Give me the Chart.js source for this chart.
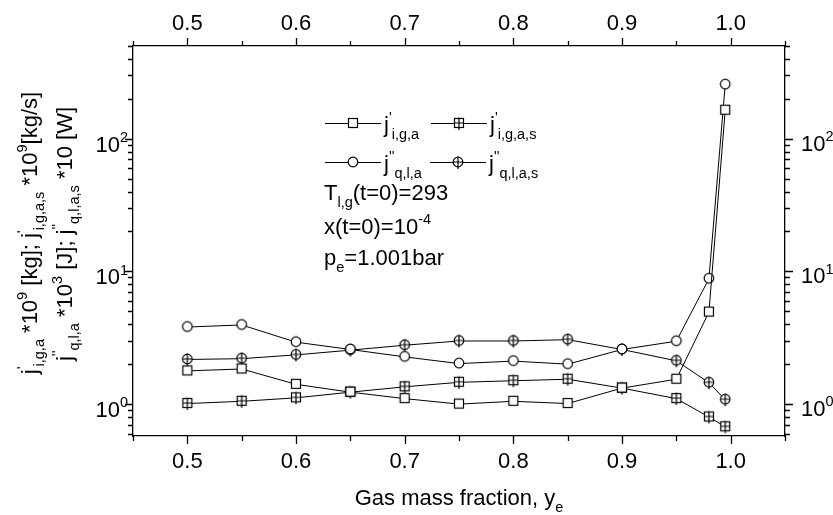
<!DOCTYPE html>
<html>
<head>
<meta charset="utf-8">
<script src="https://cdn.jsdelivr.net/npm/chart.js@4"></script>
<style>
  html, body { margin: 0; padding: 0; background: #fff; }
  canvas { display: block; }
</style>
</head>
<body>
<canvas id="chart" width="833" height="515"></canvas>
<script>
"use strict";

// gas mass fraction y_e
const massFraction = [0.5, 0.55, 0.6, 0.65, 0.7, 0.75, 0.8, 0.85, 0.9, 0.95, 0.98, 0.995];
// j'_{i,g,a} *1e9 [kg]
const jIga = [1.78, 1.84, 1.41, 1.23, 1.10, 1.00, 1.05, 1.01, 1.32, 1.54, 4.94, 164];
// j'_{i,g,a,s} *1e9 [kg/s]
const jIgas = [1.01, 1.05, 1.115, 1.23, 1.35, 1.46, 1.50, 1.54, 1.32, 1.10, 0.80, 0.675];
// j''_{q,l,a} *1e3 [J]
const jQla = [3.81, 3.95, 2.93, 2.58, 2.27, 2.02, 2.11, 2.00, 2.58, 2.98, 8.81, 256];
// j''_{q,l,a,s} *10 [W]
const jQlas = [2.17, 2.20, 2.35, 2.55, 2.78, 2.99, 2.99, 3.06, 2.58, 2.12, 1.45, 1.08];

const xMajor = [0.5, 0.6, 0.7, 0.8, 0.9, 1.0];
const xMinor = [0.45, 0.55, 0.65, 0.75, 0.85, 0.95, 1.05];
const yMajor = [1, 10, 100];
const yMinor = [0.6, 0.7, 0.8, 0.9, 2, 3, 4, 5, 6, 7, 8, 9, 20, 30, 40, 50, 60, 70, 80, 90, 200, 300, 400, 500];
const yMajorExp = ["0", "1", "2"];

const FONT = '"Liberation Sans", Arial, sans-serif';

function makeMarker(kind) {
    const c = document.createElement("canvas");
    c.width = 14; c.height = 15;
    const g = c.getContext("2d");
    g.strokeStyle = "#000";
    g.fillStyle = "#fff";
    g.lineWidth = 1.2;
    const m = 7;
    if (kind === "square" || kind === "squarePlus") {
        g.fillRect(2.5, 2.5, 9, 9);
        g.strokeRect(2.5, 2.5, 9, 9);
    } else {
        g.beginPath();
        g.arc(m, m, 4.8, 0, 2 * Math.PI);
        g.fill();
        g.stroke();
    }
    if (kind === "squarePlus" || kind === "circlePlus") {
        g.beginPath();
        g.moveTo(m, 1.5); g.lineTo(m, 14);
        g.moveTo(2, m); g.lineTo(12, m);
        g.stroke();
    }
    return c;
}

const markers = {
    square: makeMarker("square"),
    squarePlus: makeMarker("squarePlus"),
    circle: makeMarker("circle"),
    circlePlus: makeMarker("circlePlus")
};

function series(values, marker) {
    return {
        data: values.map((v, i) => ({ x: massFraction[i], y: v })),
        borderColor: "#000",
        borderWidth: 1,
        pointStyle: markers[marker],
        pointRadius: 5,
        tension: 0,
        xAxisID: "x",
        yAxisID: "y"
    };
}

// segments: [text, "sub"|"sup"|undefined]
function drawRich(ctx, segs, x, y, size, align) {
    const small = size * 0.66;
    let w = 0;
    segs.forEach(s => {
        ctx.font = (s[1] ? small : size) + "px " + FONT;
        w += ctx.measureText(s[0]).width;
    });
    let cx = align === "right" ? x - w : align === "center" ? x - w / 2 : x;
    segs.forEach(s => {
        ctx.font = (s[1] ? small : size) + "px " + FONT;
        const dy = s[1] === "sub" ? size * 0.32 : s[1] === "sup" ? -size * 0.45 : 0;
        ctx.fillText(s[0], cx, y + dy);
        cx += ctx.measureText(s[0]).width;
    });
}

const axesPlugin = {
    id: "axesDecor",
    afterDraw(chart) {
        const ctx = chart.ctx;
        const { x, x2, y, y2 } = chart.scales;
        const a = chart.chartArea;
        ctx.save();
        ctx.strokeStyle = "#000";
        ctx.fillStyle = "#000";
        ctx.lineWidth = 1.3;
        ctx.beginPath();
        const tick = (list, len) => {
            list.forEach(v => {
                const px = Math.round(x.getPixelForValue(v)) + 0.5;
                ctx.moveTo(px, a.bottom); ctx.lineTo(px, a.bottom + len);
                const pt = Math.round(x2.getPixelForValue(v)) + 0.5;
                ctx.moveTo(pt, a.top); ctx.lineTo(pt, a.top - len);
            });
        };
        tick(xMajor, 8);
        tick(xMinor, 5);
        const ytick = (list, len) => {
            list.forEach(v => {
                const py = Math.round(y.getPixelForValue(v)) + 0.5;
                ctx.moveTo(a.left, py); ctx.lineTo(a.left - len, py);
                const pr = Math.round(y2.getPixelForValue(v)) + 0.5;
                ctx.moveTo(a.right, pr); ctx.lineTo(a.right + len, pr);
            });
        };
        ytick(yMajor, 8);
        ytick(yMinor, 5);
        ctx.stroke();

        ctx.textBaseline = "alphabetic";
        ctx.font = "22px " + FONT;
        ctx.textAlign = "center";
        xMajor.forEach(v => {
            ctx.fillText(v.toFixed(1), x.getPixelForValue(v), 468);
            ctx.fillText(v.toFixed(1), x2.getPixelForValue(v), 30);
        });
        ctx.textAlign = "left";
        yMajor.forEach((v, i) => {
            drawRich(ctx, [["10"], [yMajorExp[i], "sup"]], a.left - 5, y.getPixelForValue(v) + 13, 22, "right");
            drawRich(ctx, [["10"], [yMajorExp[i], "sup"]], a.right + 16, y2.getPixelForValue(v) + 12, 22, "left");
        });

        // axis titles
        drawRich(ctx, [["Gas mass fraction, y"], ["e", "sub"]], (a.left + a.right) / 2, 505, 22, "center");
        ctx.save();
        ctx.translate(37, 233);
        ctx.rotate(-Math.PI / 2);
        drawRich(ctx, [["j"], ["'", "sup"], ["i,g,a", "sub"], [" *10"], ["9", "sup"], [" [kg]; j"], ["'", "sup"],
            ["i,g,a,s", "sub"], [" *10"], ["9", "sup"], ["[kg/s]"]], 0, 0, 22, "center");
        ctx.restore();
        ctx.save();
        ctx.translate(72, 234);
        ctx.rotate(-Math.PI / 2);
        drawRich(ctx, [["j"], ["''", "sup"], ["q,l,a", "sub"], [" *10"], ["3", "sup"], [" [J]; j"], ["''", "sup"],
            ["q,l,a,s", "sub"], [" *10 [W]"]], 0, 0, 22, "center");
        ctx.restore();

        // legend
        const entries = [
            { x: 325, y: 123, m: "square", t: [["j"], ["'", "sup"], ["i,g,a", "sub"]] },
            { x: 431, y: 123, m: "squarePlus", t: [["j"], ["'", "sup"], ["i,g,a,s", "sub"]] },
            { x: 325, y: 162, m: "circle", t: [["j"], ["''", "sup"], ["q,l,a", "sub"]] },
            { x: 430, y: 162, m: "circlePlus", t: [["j"], ["''", "sup"], ["q,l,a,s", "sub"]] }
        ];
        ctx.lineWidth = 1;
        entries.forEach(e => {
            ctx.beginPath();
            ctx.moveTo(e.x, e.y + 0.5); ctx.lineTo(e.x + 56, e.y + 0.5);
            ctx.stroke();
            ctx.drawImage(markers[e.m], e.x + 28 - 7, e.y - 7);
            drawRich(ctx, e.t, e.x + 59, e.y + 9, 22, "left");
        });
        drawRich(ctx, [["T"], ["l,g", "sub"], ["(t=0)=293"]], 324, 200, 22, "left");
        drawRich(ctx, [["x(t=0)=10"], ["-4", "sup"]], 324, 234, 22, "left");
        drawRich(ctx, [["p"], ["e", "sub"], ["=1.001bar"]], 324, 265, 22, "left");
        ctx.restore();
    }
};

const axisBase = {
    grid: { display: false },
    ticks: { display: false },
    border: { display: true, color: "#000", width: 1.3 }
};

new Chart(document.getElementById("chart").getContext("2d"), {
    type: "line",
    data: {
        datasets: [
            series(jIga, "square"),
            series(jIgas, "squarePlus"),
            series(jQla, "circle"),
            series(jQlas, "circlePlus")
        ]
    },
    options: {
        responsive: false,
        animation: false,
        devicePixelRatio: 1,
        layout: { padding: 0, autoPadding: false },
        plugins: { legend: { display: false }, tooltip: { enabled: false } },
        scales: {
            x: Object.assign({ type: "linear", position: "bottom", min: 0.45, max: 1.05,
                afterFit: s => { s.height = 79; } }, axisBase),
            x2: Object.assign({ type: "linear", position: "top", min: 0.45, max: 1.05,
                afterFit: s => { s.height = 46; } }, axisBase),
            y: Object.assign({ type: "logarithmic", position: "left", min: 0.575, max: 500,
                afterFit: s => { s.width = 133; } }, axisBase),
            y2: Object.assign({ type: "logarithmic", position: "right", min: 0.575, max: 500,
                afterFit: s => { s.width = 48; } }, axisBase)
        }
    },
    plugins: [axesPlugin]
});
</script>
</body>
</html>
